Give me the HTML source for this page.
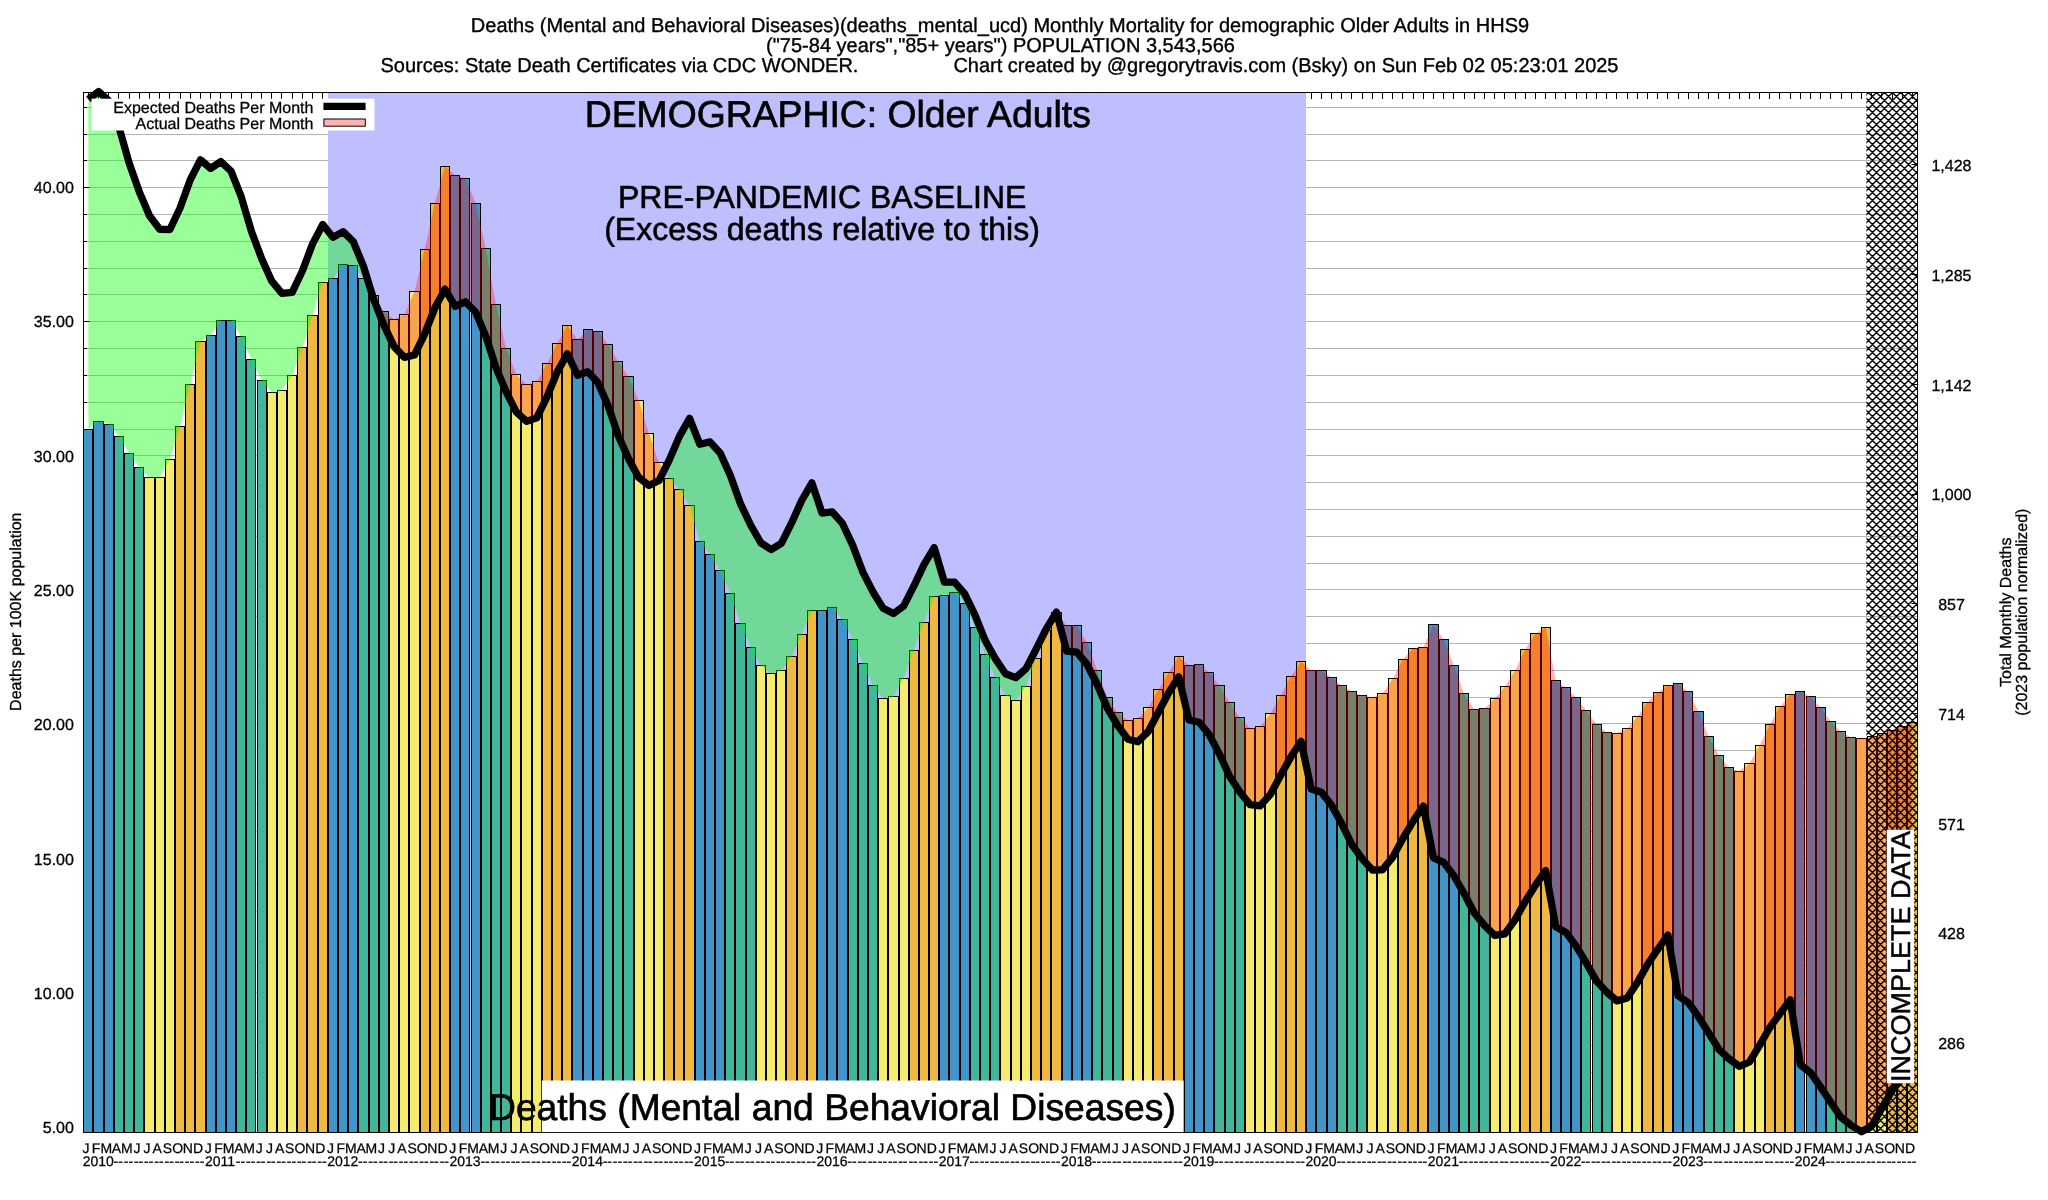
<!DOCTYPE html>
<html lang="en"><head><meta charset="utf-8"><title>Deaths (Mental and Behavioral Diseases) Monthly Mortality - Older Adults HHS9</title>
<style>html,body{margin:0;padding:0;background:#fff;width:2048px;height:1200px;overflow:hidden}svg{display:block;will-change:transform}</style></head>
<body>
<svg width="2048" height="1200" viewBox="0 0 2048 1200" font-family="'Liberation Sans', sans-serif" fill="#000" text-rendering="geometricPrecision">
<defs>
<pattern id="hatch" width="8" height="8" patternUnits="userSpaceOnUse"><path d="M-8,-8L16,16M-8,0L8,16M0,-8L16,8M-7,8L9,-8M-7,16L17,-8M1,16L17,0" stroke="#000" stroke-width="1.4" fill="none"/></pattern>
<clipPath id="plotclip"><rect x="83.5" y="84.5" width="1834.0" height="1052.0"/></clipPath>
</defs>
<rect width="2048" height="1200" fill="#fff"/>
<path d="M83.5,1126.5H1917.5M83.5,1099.5H1917.5M83.5,1072.5H1917.5M83.5,1045.5H1917.5M83.5,1018.5H1917.5M83.5,992.5H1917.5M83.5,965.5H1917.5M83.5,938.5H1917.5M83.5,911.5H1917.5M83.5,884.5H1917.5M83.5,858.5H1917.5M83.5,831.5H1917.5M83.5,804.5H1917.5M83.5,777.5H1917.5M83.5,750.5H1917.5M83.5,723.5H1917.5M83.5,697.5H1917.5M83.5,670.5H1917.5M83.5,643.5H1917.5M83.5,616.5H1917.5M83.5,589.5H1917.5M83.5,563.5H1917.5M83.5,536.5H1917.5M83.5,509.5H1917.5M83.5,482.5H1917.5M83.5,455.5H1917.5M83.5,429.5H1917.5M83.5,402.5H1917.5M83.5,375.5H1917.5M83.5,348.5H1917.5M83.5,321.5H1917.5M83.5,294.5H1917.5M83.5,268.5H1917.5M83.5,241.5H1917.5M83.5,214.5H1917.5M83.5,187.5H1917.5M83.5,160.5H1917.5M83.5,134.5H1917.5M83.5,107.5H1917.5" stroke="#b4b4b4" stroke-width="1" fill="none"/>
<path d="M88.5,92.5v6.5M98.5,92.5v6.5M108.5,92.5v6.5M118.5,92.5v6.5M129.5,92.5v6.5M139.5,92.5v6.5M149.5,92.5v6.5M159.5,92.5v6.5M169.5,92.5v6.5M180.5,92.5v6.5M190.5,92.5v6.5M200.5,92.5v6.5M210.5,92.5v6.5M220.5,92.5v6.5M231.5,92.5v6.5M241.5,92.5v6.5M251.5,92.5v6.5M261.5,92.5v6.5M271.5,92.5v6.5M281.5,92.5v6.5M292.5,92.5v6.5M302.5,92.5v6.5M312.5,92.5v6.5M322.5,92.5v6.5M332.5,92.5v6.5M343.5,92.5v6.5M353.5,92.5v6.5M363.5,92.5v6.5M373.5,92.5v6.5M383.5,92.5v6.5M394.5,92.5v6.5M404.5,92.5v6.5M414.5,92.5v6.5M424.5,92.5v6.5M434.5,92.5v6.5M445.5,92.5v6.5M455.5,92.5v6.5M465.5,92.5v6.5M475.5,92.5v6.5M485.5,92.5v6.5M495.5,92.5v6.5M506.5,92.5v6.5M516.5,92.5v6.5M526.5,92.5v6.5M536.5,92.5v6.5M546.5,92.5v6.5M557.5,92.5v6.5M567.5,92.5v6.5M577.5,92.5v6.5M587.5,92.5v6.5M597.5,92.5v6.5M608.5,92.5v6.5M618.5,92.5v6.5M628.5,92.5v6.5M638.5,92.5v6.5M648.5,92.5v6.5M659.5,92.5v6.5M669.5,92.5v6.5M679.5,92.5v6.5M689.5,92.5v6.5M699.5,92.5v6.5M709.5,92.5v6.5M720.5,92.5v6.5M730.5,92.5v6.5M740.5,92.5v6.5M750.5,92.5v6.5M760.5,92.5v6.5M771.5,92.5v6.5M781.5,92.5v6.5M791.5,92.5v6.5M801.5,92.5v6.5M811.5,92.5v6.5M822.5,92.5v6.5M832.5,92.5v6.5M842.5,92.5v6.5M852.5,92.5v6.5M862.5,92.5v6.5M873.5,92.5v6.5M883.5,92.5v6.5M893.5,92.5v6.5M903.5,92.5v6.5M913.5,92.5v6.5M923.5,92.5v6.5M934.5,92.5v6.5M944.5,92.5v6.5M954.5,92.5v6.5M964.5,92.5v6.5M974.5,92.5v6.5M985.5,92.5v6.5M995.5,92.5v6.5M1005.5,92.5v6.5M1015.5,92.5v6.5M1025.5,92.5v6.5M1036.5,92.5v6.5M1046.5,92.5v6.5M1056.5,92.5v6.5M1066.5,92.5v6.5M1076.5,92.5v6.5M1087.5,92.5v6.5M1097.5,92.5v6.5M1107.5,92.5v6.5M1117.5,92.5v6.5M1127.5,92.5v6.5M1137.5,92.5v6.5M1148.5,92.5v6.5M1158.5,92.5v6.5M1168.5,92.5v6.5M1178.5,92.5v6.5M1188.5,92.5v6.5M1199.5,92.5v6.5M1209.5,92.5v6.5M1219.5,92.5v6.5M1229.5,92.5v6.5M1239.5,92.5v6.5M1250.5,92.5v6.5M1260.5,92.5v6.5M1270.5,92.5v6.5M1280.5,92.5v6.5M1290.5,92.5v6.5M1301.5,92.5v6.5M1311.5,92.5v6.5M1321.5,92.5v6.5M1331.5,92.5v6.5M1341.5,92.5v6.5M1351.5,92.5v6.5M1362.5,92.5v6.5M1372.5,92.5v6.5M1382.5,92.5v6.5M1392.5,92.5v6.5M1402.5,92.5v6.5M1413.5,92.5v6.5M1423.5,92.5v6.5M1433.5,92.5v6.5M1443.5,92.5v6.5M1453.5,92.5v6.5M1464.5,92.5v6.5M1474.5,92.5v6.5M1484.5,92.5v6.5M1494.5,92.5v6.5M1504.5,92.5v6.5M1515.5,92.5v6.5M1525.5,92.5v6.5M1535.5,92.5v6.5M1545.5,92.5v6.5M1555.5,92.5v6.5M1565.5,92.5v6.5M1576.5,92.5v6.5M1586.5,92.5v6.5M1596.5,92.5v6.5M1606.5,92.5v6.5M1616.5,92.5v6.5M1627.5,92.5v6.5M1637.5,92.5v6.5M1647.5,92.5v6.5M1657.5,92.5v6.5M1667.5,92.5v6.5M1678.5,92.5v6.5M1688.5,92.5v6.5M1698.5,92.5v6.5M1708.5,92.5v6.5M1718.5,92.5v6.5M1729.5,92.5v6.5M1739.5,92.5v6.5M1749.5,92.5v6.5M1759.5,92.5v6.5M1769.5,92.5v6.5M1779.5,92.5v6.5M1790.5,92.5v6.5M1800.5,92.5v6.5M1810.5,92.5v6.5M1820.5,92.5v6.5M1830.5,92.5v6.5M1841.5,92.5v6.5M1851.5,92.5v6.5M1861.5,92.5v6.5M1871.5,92.5v6.5M1881.5,92.5v6.5M1892.5,92.5v6.5M1902.5,92.5v6.5M1912.5,92.5v6.5M83.5,1126.5h6.5M83.5,1099.5h3.5M83.5,1072.5h3.5M83.5,1045.5h3.5M83.5,1018.5h3.5M83.5,992.5h6.5M83.5,965.5h3.5M83.5,938.5h3.5M83.5,911.5h3.5M83.5,884.5h3.5M83.5,858.5h6.5M83.5,831.5h3.5M83.5,804.5h3.5M83.5,777.5h3.5M83.5,750.5h3.5M83.5,723.5h6.5M83.5,697.5h3.5M83.5,670.5h3.5M83.5,643.5h3.5M83.5,616.5h3.5M83.5,589.5h6.5M83.5,563.5h3.5M83.5,536.5h3.5M83.5,509.5h3.5M83.5,482.5h3.5M83.5,455.5h6.5M83.5,429.5h3.5M83.5,402.5h3.5M83.5,375.5h3.5M83.5,348.5h3.5M83.5,321.5h6.5M83.5,294.5h3.5M83.5,268.5h3.5M83.5,241.5h3.5M83.5,214.5h3.5M83.5,187.5h6.5M83.5,160.5h3.5M83.5,134.5h3.5M83.5,107.5h3.5M1917.5,164.5h-6M1917.5,274.5h-6M1917.5,384.5h-6M1917.5,494.5h-6M1917.5,603.5h-6M1917.5,713.5h-6M1917.5,823.5h-6M1917.5,933.5h-6M1917.5,1042.5h-6" stroke="#000" stroke-width="1" fill="none"/>
<rect x="328.0" y="93.0" width="978.0" height="1039.5" fill="#bfbfff"/>
<rect x="83.5" y="429.5" width="9.0" height="703.0" fill="#4195c9" stroke="#000" stroke-width="1"/>
<rect x="93.5" y="421.5" width="10.0" height="711.0" fill="#4195c9" stroke="#000" stroke-width="1"/>
<rect x="104.5" y="424.5" width="9.0" height="708.0" fill="#4195c9" stroke="#000" stroke-width="1"/>
<rect x="114.5" y="436.5" width="9.0" height="696.0" fill="#41b69a" stroke="#000" stroke-width="1"/>
<rect x="124.5" y="453.5" width="9.0" height="679.0" fill="#41b69a" stroke="#000" stroke-width="1"/>
<rect x="134.5" y="467.5" width="9.0" height="665.0" fill="#41b69a" stroke="#000" stroke-width="1"/>
<rect x="144.5" y="477.5" width="10.0" height="655.0" fill="#f5eb6e" stroke="#000" stroke-width="1"/>
<rect x="155.5" y="477.5" width="9.0" height="655.0" fill="#f5eb6e" stroke="#000" stroke-width="1"/>
<rect x="165.5" y="459.5" width="9.0" height="673.0" fill="#f5eb6e" stroke="#000" stroke-width="1"/>
<rect x="175.5" y="426.5" width="9.0" height="706.0" fill="#efb840" stroke="#000" stroke-width="1"/>
<rect x="185.5" y="384.5" width="9.0" height="748.0" fill="#efb840" stroke="#000" stroke-width="1"/>
<rect x="195.5" y="341.5" width="10.0" height="791.0" fill="#efb840" stroke="#000" stroke-width="1"/>
<rect x="206.5" y="335.5" width="9.0" height="797.0" fill="#4195c9" stroke="#000" stroke-width="1"/>
<rect x="216.5" y="320.5" width="9.0" height="812.0" fill="#4195c9" stroke="#000" stroke-width="1"/>
<rect x="226.5" y="320.5" width="9.0" height="812.0" fill="#4195c9" stroke="#000" stroke-width="1"/>
<rect x="236.5" y="336.5" width="9.0" height="796.0" fill="#41b69a" stroke="#000" stroke-width="1"/>
<rect x="246.5" y="359.5" width="9.0" height="773.0" fill="#41b69a" stroke="#000" stroke-width="1"/>
<rect x="257.5" y="380.5" width="9.0" height="752.0" fill="#41b69a" stroke="#000" stroke-width="1"/>
<rect x="267.5" y="392.5" width="9.0" height="740.0" fill="#f5eb6e" stroke="#000" stroke-width="1"/>
<rect x="277.5" y="390.5" width="9.0" height="742.0" fill="#f5eb6e" stroke="#000" stroke-width="1"/>
<rect x="287.5" y="375.5" width="9.0" height="757.0" fill="#f5eb6e" stroke="#000" stroke-width="1"/>
<rect x="297.5" y="347.5" width="9.0" height="785.0" fill="#efb840" stroke="#000" stroke-width="1"/>
<rect x="307.5" y="315.5" width="10.0" height="817.0" fill="#efb840" stroke="#000" stroke-width="1"/>
<rect x="318.5" y="282.5" width="9.0" height="850.0" fill="#efb840" stroke="#000" stroke-width="1"/>
<rect x="328.5" y="278.5" width="9.0" height="854.0" fill="#4195c9" stroke="#000" stroke-width="1"/>
<rect x="338.5" y="264.5" width="9.0" height="868.0" fill="#4195c9" stroke="#000" stroke-width="1"/>
<rect x="348.5" y="265.5" width="9.0" height="867.0" fill="#4195c9" stroke="#000" stroke-width="1"/>
<rect x="358.5" y="278.5" width="10.0" height="854.0" fill="#41b69a" stroke="#000" stroke-width="1"/>
<rect x="369.5" y="295.5" width="9.0" height="837.0" fill="#41b69a" stroke="#000" stroke-width="1"/>
<rect x="379.5" y="311.5" width="9.0" height="821.0" fill="#41b69a" stroke="#000" stroke-width="1"/>
<rect x="389.5" y="319.5" width="9.0" height="813.0" fill="#f5eb6e" stroke="#000" stroke-width="1"/>
<rect x="399.5" y="314.5" width="9.0" height="818.0" fill="#f5eb6e" stroke="#000" stroke-width="1"/>
<rect x="409.5" y="291.5" width="10.0" height="841.0" fill="#f5eb6e" stroke="#000" stroke-width="1"/>
<rect x="420.5" y="249.5" width="9.0" height="883.0" fill="#efb840" stroke="#000" stroke-width="1"/>
<rect x="430.5" y="203.5" width="9.0" height="929.0" fill="#efb840" stroke="#000" stroke-width="1"/>
<rect x="440.5" y="166.5" width="9.0" height="966.0" fill="#efb840" stroke="#000" stroke-width="1"/>
<rect x="450.5" y="175.5" width="9.0" height="957.0" fill="#4195c9" stroke="#000" stroke-width="1"/>
<rect x="460.5" y="178.5" width="9.0" height="954.0" fill="#4195c9" stroke="#000" stroke-width="1"/>
<rect x="471.5" y="203.5" width="9.0" height="929.0" fill="#4195c9" stroke="#000" stroke-width="1"/>
<rect x="481.5" y="248.5" width="9.0" height="884.0" fill="#41b69a" stroke="#000" stroke-width="1"/>
<rect x="491.5" y="304.5" width="9.0" height="828.0" fill="#41b69a" stroke="#000" stroke-width="1"/>
<rect x="501.5" y="348.5" width="9.0" height="784.0" fill="#41b69a" stroke="#000" stroke-width="1"/>
<rect x="511.5" y="374.5" width="9.0" height="758.0" fill="#f5eb6e" stroke="#000" stroke-width="1"/>
<rect x="521.5" y="384.5" width="10.0" height="748.0" fill="#f5eb6e" stroke="#000" stroke-width="1"/>
<rect x="532.5" y="381.5" width="9.0" height="751.0" fill="#f5eb6e" stroke="#000" stroke-width="1"/>
<rect x="542.5" y="363.5" width="9.0" height="769.0" fill="#efb840" stroke="#000" stroke-width="1"/>
<rect x="552.5" y="343.5" width="9.0" height="789.0" fill="#efb840" stroke="#000" stroke-width="1"/>
<rect x="562.5" y="325.5" width="9.0" height="807.0" fill="#efb840" stroke="#000" stroke-width="1"/>
<rect x="572.5" y="339.5" width="10.0" height="793.0" fill="#4195c9" stroke="#000" stroke-width="1"/>
<rect x="583.5" y="329.5" width="9.0" height="803.0" fill="#4195c9" stroke="#000" stroke-width="1"/>
<rect x="593.5" y="331.5" width="9.0" height="801.0" fill="#4195c9" stroke="#000" stroke-width="1"/>
<rect x="603.5" y="344.5" width="9.0" height="788.0" fill="#41b69a" stroke="#000" stroke-width="1"/>
<rect x="613.5" y="361.5" width="9.0" height="771.0" fill="#41b69a" stroke="#000" stroke-width="1"/>
<rect x="623.5" y="376.5" width="10.0" height="756.0" fill="#41b69a" stroke="#000" stroke-width="1"/>
<rect x="634.5" y="400.5" width="9.0" height="732.0" fill="#f5eb6e" stroke="#000" stroke-width="1"/>
<rect x="644.5" y="433.5" width="9.0" height="699.0" fill="#f5eb6e" stroke="#000" stroke-width="1"/>
<rect x="654.5" y="462.5" width="9.0" height="670.0" fill="#f5eb6e" stroke="#000" stroke-width="1"/>
<rect x="664.5" y="478.5" width="9.0" height="654.0" fill="#efb840" stroke="#000" stroke-width="1"/>
<rect x="674.5" y="489.5" width="9.0" height="643.0" fill="#efb840" stroke="#000" stroke-width="1"/>
<rect x="684.5" y="505.5" width="10.0" height="627.0" fill="#efb840" stroke="#000" stroke-width="1"/>
<rect x="695.5" y="541.5" width="9.0" height="591.0" fill="#4195c9" stroke="#000" stroke-width="1"/>
<rect x="705.5" y="554.5" width="9.0" height="578.0" fill="#4195c9" stroke="#000" stroke-width="1"/>
<rect x="715.5" y="570.5" width="9.0" height="562.0" fill="#4195c9" stroke="#000" stroke-width="1"/>
<rect x="725.5" y="593.5" width="9.0" height="539.0" fill="#41b69a" stroke="#000" stroke-width="1"/>
<rect x="735.5" y="623.5" width="10.0" height="509.0" fill="#41b69a" stroke="#000" stroke-width="1"/>
<rect x="746.5" y="647.5" width="9.0" height="485.0" fill="#41b69a" stroke="#000" stroke-width="1"/>
<rect x="756.5" y="665.5" width="9.0" height="467.0" fill="#f5eb6e" stroke="#000" stroke-width="1"/>
<rect x="766.5" y="673.5" width="9.0" height="459.0" fill="#f5eb6e" stroke="#000" stroke-width="1"/>
<rect x="776.5" y="670.5" width="9.0" height="462.0" fill="#f5eb6e" stroke="#000" stroke-width="1"/>
<rect x="786.5" y="656.5" width="10.0" height="476.0" fill="#efb840" stroke="#000" stroke-width="1"/>
<rect x="797.5" y="634.5" width="9.0" height="498.0" fill="#efb840" stroke="#000" stroke-width="1"/>
<rect x="807.5" y="610.5" width="9.0" height="522.0" fill="#efb840" stroke="#000" stroke-width="1"/>
<rect x="817.5" y="610.5" width="9.0" height="522.0" fill="#4195c9" stroke="#000" stroke-width="1"/>
<rect x="827.5" y="607.5" width="9.0" height="525.0" fill="#4195c9" stroke="#000" stroke-width="1"/>
<rect x="837.5" y="619.5" width="10.0" height="513.0" fill="#4195c9" stroke="#000" stroke-width="1"/>
<rect x="848.5" y="639.5" width="9.0" height="493.0" fill="#41b69a" stroke="#000" stroke-width="1"/>
<rect x="858.5" y="663.5" width="9.0" height="469.0" fill="#41b69a" stroke="#000" stroke-width="1"/>
<rect x="868.5" y="685.5" width="9.0" height="447.0" fill="#41b69a" stroke="#000" stroke-width="1"/>
<rect x="878.5" y="698.5" width="9.0" height="434.0" fill="#f5eb6e" stroke="#000" stroke-width="1"/>
<rect x="888.5" y="696.5" width="10.0" height="436.0" fill="#f5eb6e" stroke="#000" stroke-width="1"/>
<rect x="899.5" y="678.5" width="9.0" height="454.0" fill="#f5eb6e" stroke="#000" stroke-width="1"/>
<rect x="909.5" y="650.5" width="9.0" height="482.0" fill="#efb840" stroke="#000" stroke-width="1"/>
<rect x="919.5" y="622.5" width="9.0" height="510.0" fill="#efb840" stroke="#000" stroke-width="1"/>
<rect x="929.5" y="596.5" width="9.0" height="536.0" fill="#efb840" stroke="#000" stroke-width="1"/>
<rect x="939.5" y="595.5" width="9.0" height="537.0" fill="#4195c9" stroke="#000" stroke-width="1"/>
<rect x="949.5" y="592.5" width="10.0" height="540.0" fill="#4195c9" stroke="#000" stroke-width="1"/>
<rect x="960.5" y="603.5" width="9.0" height="529.0" fill="#4195c9" stroke="#000" stroke-width="1"/>
<rect x="970.5" y="627.5" width="9.0" height="505.0" fill="#41b69a" stroke="#000" stroke-width="1"/>
<rect x="980.5" y="654.5" width="9.0" height="478.0" fill="#41b69a" stroke="#000" stroke-width="1"/>
<rect x="990.5" y="677.5" width="9.0" height="455.0" fill="#41b69a" stroke="#000" stroke-width="1"/>
<rect x="1000.5" y="695.5" width="10.0" height="437.0" fill="#f5eb6e" stroke="#000" stroke-width="1"/>
<rect x="1011.5" y="700.5" width="9.0" height="432.0" fill="#f5eb6e" stroke="#000" stroke-width="1"/>
<rect x="1021.5" y="686.5" width="9.0" height="446.0" fill="#f5eb6e" stroke="#000" stroke-width="1"/>
<rect x="1031.5" y="658.5" width="9.0" height="474.0" fill="#efb840" stroke="#000" stroke-width="1"/>
<rect x="1041.5" y="630.5" width="9.0" height="502.0" fill="#efb840" stroke="#000" stroke-width="1"/>
<rect x="1051.5" y="612.5" width="10.0" height="520.0" fill="#efb840" stroke="#000" stroke-width="1"/>
<rect x="1062.5" y="625.5" width="9.0" height="507.0" fill="#4195c9" stroke="#000" stroke-width="1"/>
<rect x="1072.5" y="625.5" width="9.0" height="507.0" fill="#4195c9" stroke="#000" stroke-width="1"/>
<rect x="1082.5" y="642.5" width="9.0" height="490.0" fill="#4195c9" stroke="#000" stroke-width="1"/>
<rect x="1092.5" y="670.5" width="9.0" height="462.0" fill="#41b69a" stroke="#000" stroke-width="1"/>
<rect x="1102.5" y="697.5" width="10.0" height="435.0" fill="#41b69a" stroke="#000" stroke-width="1"/>
<rect x="1113.5" y="712.5" width="9.0" height="420.0" fill="#41b69a" stroke="#000" stroke-width="1"/>
<rect x="1123.5" y="720.5" width="9.0" height="412.0" fill="#f5eb6e" stroke="#000" stroke-width="1"/>
<rect x="1133.5" y="718.5" width="9.0" height="414.0" fill="#f5eb6e" stroke="#000" stroke-width="1"/>
<rect x="1143.5" y="707.5" width="9.0" height="425.0" fill="#f5eb6e" stroke="#000" stroke-width="1"/>
<rect x="1153.5" y="689.5" width="9.0" height="443.0" fill="#efb840" stroke="#000" stroke-width="1"/>
<rect x="1163.5" y="672.5" width="10.0" height="460.0" fill="#efb840" stroke="#000" stroke-width="1"/>
<rect x="1174.5" y="656.5" width="9.0" height="476.0" fill="#efb840" stroke="#000" stroke-width="1"/>
<rect x="1184.5" y="665.5" width="9.0" height="467.0" fill="#4195c9" stroke="#000" stroke-width="1"/>
<rect x="1194.5" y="664.5" width="9.0" height="468.0" fill="#4195c9" stroke="#000" stroke-width="1"/>
<rect x="1204.5" y="672.5" width="9.0" height="460.0" fill="#4195c9" stroke="#000" stroke-width="1"/>
<rect x="1214.5" y="685.5" width="10.0" height="447.0" fill="#41b69a" stroke="#000" stroke-width="1"/>
<rect x="1225.5" y="702.5" width="9.0" height="430.0" fill="#41b69a" stroke="#000" stroke-width="1"/>
<rect x="1235.5" y="717.5" width="9.0" height="415.0" fill="#41b69a" stroke="#000" stroke-width="1"/>
<rect x="1245.5" y="728.5" width="9.0" height="404.0" fill="#f5eb6e" stroke="#000" stroke-width="1"/>
<rect x="1255.5" y="726.5" width="9.0" height="406.0" fill="#f5eb6e" stroke="#000" stroke-width="1"/>
<rect x="1265.5" y="713.5" width="10.0" height="419.0" fill="#f5eb6e" stroke="#000" stroke-width="1"/>
<rect x="1276.5" y="695.5" width="9.0" height="437.0" fill="#efb840" stroke="#000" stroke-width="1"/>
<rect x="1286.5" y="676.5" width="9.0" height="456.0" fill="#efb840" stroke="#000" stroke-width="1"/>
<rect x="1296.5" y="661.5" width="9.0" height="471.0" fill="#efb840" stroke="#000" stroke-width="1"/>
<rect x="1306.5" y="670.5" width="9.0" height="462.0" fill="#4195c9" stroke="#000" stroke-width="1"/>
<rect x="1316.5" y="670.5" width="10.0" height="462.0" fill="#4195c9" stroke="#000" stroke-width="1"/>
<rect x="1327.5" y="677.5" width="9.0" height="455.0" fill="#4195c9" stroke="#000" stroke-width="1"/>
<rect x="1337.5" y="685.5" width="9.0" height="447.0" fill="#41b69a" stroke="#000" stroke-width="1"/>
<rect x="1347.5" y="691.5" width="9.0" height="441.0" fill="#41b69a" stroke="#000" stroke-width="1"/>
<rect x="1357.5" y="695.5" width="9.0" height="437.0" fill="#41b69a" stroke="#000" stroke-width="1"/>
<rect x="1367.5" y="697.5" width="9.0" height="435.0" fill="#f5eb6e" stroke="#000" stroke-width="1"/>
<rect x="1377.5" y="693.5" width="10.0" height="439.0" fill="#f5eb6e" stroke="#000" stroke-width="1"/>
<rect x="1388.5" y="678.5" width="9.0" height="454.0" fill="#f5eb6e" stroke="#000" stroke-width="1"/>
<rect x="1398.5" y="659.5" width="9.0" height="473.0" fill="#efb840" stroke="#000" stroke-width="1"/>
<rect x="1408.5" y="648.5" width="9.0" height="484.0" fill="#efb840" stroke="#000" stroke-width="1"/>
<rect x="1418.5" y="647.5" width="9.0" height="485.0" fill="#efb840" stroke="#000" stroke-width="1"/>
<rect x="1428.5" y="624.5" width="10.0" height="508.0" fill="#4195c9" stroke="#000" stroke-width="1"/>
<rect x="1439.5" y="639.5" width="9.0" height="493.0" fill="#4195c9" stroke="#000" stroke-width="1"/>
<rect x="1449.5" y="665.5" width="9.0" height="467.0" fill="#4195c9" stroke="#000" stroke-width="1"/>
<rect x="1459.5" y="693.5" width="9.0" height="439.0" fill="#41b69a" stroke="#000" stroke-width="1"/>
<rect x="1469.5" y="709.5" width="9.0" height="423.0" fill="#41b69a" stroke="#000" stroke-width="1"/>
<rect x="1479.5" y="708.5" width="10.0" height="424.0" fill="#41b69a" stroke="#000" stroke-width="1"/>
<rect x="1490.5" y="698.5" width="9.0" height="434.0" fill="#f5eb6e" stroke="#000" stroke-width="1"/>
<rect x="1500.5" y="686.5" width="9.0" height="446.0" fill="#f5eb6e" stroke="#000" stroke-width="1"/>
<rect x="1510.5" y="670.5" width="9.0" height="462.0" fill="#f5eb6e" stroke="#000" stroke-width="1"/>
<rect x="1520.5" y="649.5" width="9.0" height="483.0" fill="#efb840" stroke="#000" stroke-width="1"/>
<rect x="1530.5" y="633.5" width="10.0" height="499.0" fill="#efb840" stroke="#000" stroke-width="1"/>
<rect x="1541.5" y="627.5" width="9.0" height="505.0" fill="#efb840" stroke="#000" stroke-width="1"/>
<rect x="1551.5" y="680.5" width="9.0" height="452.0" fill="#4195c9" stroke="#000" stroke-width="1"/>
<rect x="1561.5" y="687.5" width="9.0" height="445.0" fill="#4195c9" stroke="#000" stroke-width="1"/>
<rect x="1571.5" y="697.5" width="9.0" height="435.0" fill="#4195c9" stroke="#000" stroke-width="1"/>
<rect x="1581.5" y="710.5" width="9.0" height="422.0" fill="#41b69a" stroke="#000" stroke-width="1"/>
<rect x="1592.5" y="724.5" width="9.0" height="408.0" fill="#41b69a" stroke="#000" stroke-width="1"/>
<rect x="1602.5" y="732.5" width="9.0" height="400.0" fill="#41b69a" stroke="#000" stroke-width="1"/>
<rect x="1612.5" y="733.5" width="9.0" height="399.0" fill="#f5eb6e" stroke="#000" stroke-width="1"/>
<rect x="1622.5" y="728.5" width="9.0" height="404.0" fill="#f5eb6e" stroke="#000" stroke-width="1"/>
<rect x="1632.5" y="716.5" width="9.0" height="416.0" fill="#f5eb6e" stroke="#000" stroke-width="1"/>
<rect x="1642.5" y="702.5" width="10.0" height="430.0" fill="#efb840" stroke="#000" stroke-width="1"/>
<rect x="1653.5" y="692.5" width="9.0" height="440.0" fill="#efb840" stroke="#000" stroke-width="1"/>
<rect x="1663.5" y="685.5" width="9.0" height="447.0" fill="#efb840" stroke="#000" stroke-width="1"/>
<rect x="1673.5" y="683.5" width="9.0" height="449.0" fill="#4195c9" stroke="#000" stroke-width="1"/>
<rect x="1683.5" y="691.5" width="9.0" height="441.0" fill="#4195c9" stroke="#000" stroke-width="1"/>
<rect x="1693.5" y="711.5" width="10.0" height="421.0" fill="#4195c9" stroke="#000" stroke-width="1"/>
<rect x="1704.5" y="736.5" width="9.0" height="396.0" fill="#41b69a" stroke="#000" stroke-width="1"/>
<rect x="1714.5" y="755.5" width="9.0" height="377.0" fill="#41b69a" stroke="#000" stroke-width="1"/>
<rect x="1724.5" y="767.5" width="9.0" height="365.0" fill="#41b69a" stroke="#000" stroke-width="1"/>
<rect x="1734.5" y="771.5" width="9.0" height="361.0" fill="#f5eb6e" stroke="#000" stroke-width="1"/>
<rect x="1744.5" y="763.5" width="10.0" height="369.0" fill="#f5eb6e" stroke="#000" stroke-width="1"/>
<rect x="1755.5" y="745.5" width="9.0" height="387.0" fill="#f5eb6e" stroke="#000" stroke-width="1"/>
<rect x="1765.5" y="724.5" width="9.0" height="408.0" fill="#efb840" stroke="#000" stroke-width="1"/>
<rect x="1775.5" y="706.5" width="9.0" height="426.0" fill="#efb840" stroke="#000" stroke-width="1"/>
<rect x="1785.5" y="694.5" width="9.0" height="438.0" fill="#efb840" stroke="#000" stroke-width="1"/>
<rect x="1795.5" y="691.5" width="9.0" height="441.0" fill="#4195c9" stroke="#000" stroke-width="1"/>
<rect x="1806.5" y="696.5" width="9.0" height="436.0" fill="#4195c9" stroke="#000" stroke-width="1"/>
<rect x="1816.5" y="707.5" width="9.0" height="425.0" fill="#4195c9" stroke="#000" stroke-width="1"/>
<rect x="1826.5" y="721.5" width="9.0" height="411.0" fill="#41b69a" stroke="#000" stroke-width="1"/>
<rect x="1836.5" y="731.5" width="9.0" height="401.0" fill="#41b69a" stroke="#000" stroke-width="1"/>
<rect x="1846.5" y="737.5" width="9.0" height="395.0" fill="#41b69a" stroke="#000" stroke-width="1"/>
<rect x="1856.5" y="738.5" width="10.0" height="394.0" fill="#f5eb6e" stroke="#000" stroke-width="1"/>
<rect x="1867.5" y="736.5" width="9.0" height="396.0" fill="#f5eb6e" stroke="#000" stroke-width="1"/>
<rect x="1877.5" y="733.5" width="9.0" height="399.0" fill="#f5eb6e" stroke="#000" stroke-width="1"/>
<rect x="1887.5" y="730.5" width="9.0" height="402.0" fill="#efb840" stroke="#000" stroke-width="1"/>
<rect x="1897.5" y="726.5" width="9.0" height="406.0" fill="#efb840" stroke="#000" stroke-width="1"/>
<rect x="1907.5" y="722.5" width="10.0" height="410.0" fill="#efb840" stroke="#000" stroke-width="1"/>
<g clip-path="url(#plotclip)">
<path d="M88.36,99.45L98.55,91.52L98.55,421.30L88.36,429.50ZM98.55,91.52L108.74,100.63L108.74,424.30L98.55,421.30ZM108.74,100.63L118.93,127.02L118.93,436.30L108.74,424.30ZM118.93,127.02L129.12,163.02L129.12,453.30L118.93,436.30ZM129.12,163.02L139.31,191.81L139.31,467.50L129.12,453.30ZM139.31,191.81L149.50,215.77L149.50,477.50L139.31,467.50ZM149.50,215.77L159.69,229.24L159.69,477.50L149.50,477.50ZM159.69,229.24L169.88,229.54L169.88,459.50L159.69,477.50ZM169.88,229.54L180.07,207.96L180.07,426.30L169.88,459.50ZM180.07,207.96L190.26,179.75L190.26,384.50L180.07,426.30ZM190.26,179.75L200.45,159.89L200.45,341.30L190.26,384.50ZM200.45,159.89L210.64,168.40L210.64,335.30L200.45,341.30ZM210.64,168.40L220.83,161.60L220.83,320.30L210.64,335.30ZM220.83,161.60L231.02,171.10L231.02,320.30L220.83,320.30ZM231.02,171.10L241.21,196.70L241.21,336.70L231.02,320.30ZM241.21,196.70L251.40,231.20L251.40,359.50L241.21,336.70ZM251.40,231.20L261.59,258.50L261.59,380.50L251.40,359.50ZM261.59,258.50L271.78,281.20L271.78,392.50L261.59,380.50ZM271.78,281.20L281.97,293.30L281.97,390.50L271.78,392.50ZM281.97,293.30L292.17,292.30L292.17,375.50L281.97,390.50ZM292.17,292.30L302.36,271.00L302.36,347.50L292.17,375.50ZM302.36,271.00L312.55,243.90L312.55,315.50L302.36,347.50ZM312.55,243.90L322.74,224.50L322.74,282.50L312.55,315.50ZM322.74,224.50L332.93,237.35L332.93,278.30L322.74,282.50ZM332.93,237.35L343.12,231.68L343.12,264.70L332.93,278.30ZM343.12,231.68L353.31,241.57L353.31,265.30L343.12,264.70ZM353.31,241.57L363.50,266.38L363.50,278.30L353.31,265.30ZM363.50,266.38L371.34,291.76L363.50,278.30ZM669.21,460.12L664.08,470.44L669.21,478.30ZM669.21,460.12L679.40,436.35L679.40,489.40L669.21,478.30ZM679.40,436.35L689.59,418.32L689.59,505.50L679.40,489.40ZM689.59,418.32L699.79,444.20L699.79,541.70L689.59,505.50ZM699.79,444.20L709.98,441.90L709.98,554.30L699.79,541.70ZM709.98,441.90L720.17,452.97L720.17,570.50L709.98,554.30ZM720.17,452.97L730.36,475.43L730.36,593.70L720.17,570.50ZM730.36,475.43L740.55,503.90L740.55,623.80L730.36,593.70ZM740.55,503.90L750.74,525.27L750.74,647.80L740.55,623.80ZM750.74,525.27L760.93,542.90L760.93,665.80L750.74,647.80ZM760.93,542.90L771.12,549.53L771.12,673.70L760.93,665.80ZM771.12,549.53L781.31,543.33L781.31,670.80L771.12,673.70ZM781.31,543.33L791.50,523.17L791.50,656.70L781.31,670.80ZM791.50,523.17L801.69,500.50L801.69,634.70L791.50,656.70ZM801.69,500.50L811.88,482.93L811.88,610.70L801.69,634.70ZM811.88,482.93L822.07,513.15L822.07,610.60L811.88,610.70ZM822.07,513.15L832.26,511.98L832.26,607.70L822.07,610.60ZM832.26,511.98L842.45,523.43L842.45,619.50L832.26,607.70ZM842.45,523.43L852.64,545.12L852.64,639.70L842.45,619.50ZM852.64,545.12L862.83,572.08L862.83,663.70L852.64,639.70ZM862.83,572.08L873.02,591.96L873.02,685.70L862.83,663.70ZM873.02,591.96L883.21,608.33L883.21,698.30L873.02,685.70ZM883.21,608.33L893.40,613.59L893.40,696.70L883.21,698.30ZM893.40,613.59L903.60,606.09L903.60,678.30L893.40,696.70ZM903.60,606.09L913.79,586.21L913.79,650.50L903.60,678.30ZM913.79,586.21L923.98,564.65L923.98,622.70L913.79,650.50ZM923.98,564.65L934.17,547.54L934.17,596.50L923.98,622.70ZM934.17,547.54L944.36,582.10L944.36,595.40L934.17,596.50ZM944.36,582.10L954.55,582.05L954.55,592.60L944.36,595.40ZM954.55,582.05L964.74,593.90L964.74,603.30L954.55,592.60ZM964.74,593.90L974.93,614.80L974.93,627.80L964.74,603.30ZM974.93,614.80L985.12,640.25L985.12,654.70L974.93,627.80ZM985.12,640.25L995.31,658.65L995.31,677.70L985.12,654.70ZM995.31,658.65L1005.50,673.75L1005.50,695.50L995.31,677.70ZM1005.50,673.75L1015.69,677.65L1015.69,700.30L1005.50,695.50ZM1015.69,677.65L1025.88,668.85L1025.88,686.70L1015.69,700.30ZM1025.88,668.85L1036.07,649.25L1036.07,658.50L1025.88,686.70ZM1036.07,649.25L1046.26,628.80L1046.26,630.80L1036.07,658.50ZM1046.26,628.80L1056.45,612.15L1056.45,612.50L1046.26,630.80ZM1056.45,612.15L1056.59,612.68L1056.45,612.50Z" fill="#00ff00" fill-opacity="0.4"/>
<path d="M373.69,299.38L371.34,291.76L373.69,295.80ZM373.69,299.38L383.88,325.19L383.88,311.30L373.69,295.80ZM383.88,325.19L394.07,346.62L394.07,319.20L383.88,311.30ZM394.07,346.62L404.26,357.36L404.26,314.50L394.07,319.20ZM404.26,357.36L414.45,355.06L414.45,291.70L404.26,314.50ZM414.45,355.06L424.64,334.04L424.64,249.50L414.45,291.70ZM424.64,334.04L434.83,308.05L434.83,203.30L424.64,249.50ZM434.83,308.05L445.02,289.11L445.02,166.20L434.83,203.30ZM445.02,289.11L455.21,306.30L455.21,175.30L445.02,166.20ZM455.21,306.30L465.40,301.75L465.40,178.30L455.21,175.30ZM465.40,301.75L475.59,312.03L475.59,203.30L465.40,178.30ZM475.59,312.03L485.78,336.07L485.78,248.70L475.59,203.30ZM485.78,336.07L495.98,367.55L495.98,304.70L485.78,248.70ZM495.98,367.55L506.17,391.88L506.17,348.50L495.98,304.70ZM506.17,391.88L516.36,412.05L516.36,374.70L506.17,348.50ZM516.36,412.05L526.55,421.42L526.55,384.70L516.36,374.70ZM526.55,421.42L536.74,417.82L536.74,381.70L526.55,384.70ZM536.74,417.82L546.93,397.08L546.93,363.70L536.74,381.70ZM546.93,397.08L557.12,372.20L557.12,343.50L546.93,363.70ZM557.12,372.20L567.31,353.72L567.31,325.40L557.12,343.50ZM567.31,353.72L577.50,375.25L577.50,339.50L567.31,325.40ZM577.50,375.25L587.69,371.83L587.69,329.60L577.50,339.50ZM587.69,371.83L597.88,382.50L597.88,331.30L587.69,329.60ZM597.88,382.50L608.07,405.75L608.07,344.50L597.88,331.30ZM608.07,405.75L618.26,435.72L618.26,361.70L608.07,344.50ZM618.26,435.72L628.45,458.57L628.45,376.70L618.26,361.70ZM628.45,458.57L638.64,477.47L638.64,400.50L628.45,376.70ZM638.64,477.47L648.83,485.48L648.83,433.30L638.64,400.50ZM648.83,485.48L659.02,480.58L659.02,462.70L648.83,433.30ZM659.02,480.58L664.08,470.44L659.02,462.70ZM1066.64,651.05L1056.59,612.68L1066.64,625.50ZM1066.64,651.05L1076.83,652.12L1076.83,625.50L1066.64,625.50ZM1076.83,652.12L1087.02,664.37L1087.02,642.50L1076.83,625.50ZM1087.02,664.37L1097.21,684.48L1097.21,670.50L1087.02,642.50ZM1097.21,684.48L1107.41,708.42L1107.41,697.50L1097.21,670.50ZM1107.41,708.42L1117.60,725.34L1117.60,712.80L1107.41,697.50ZM1117.60,725.34L1127.79,739.17L1127.79,720.30L1117.60,712.80ZM1127.79,739.17L1137.98,741.71L1137.98,718.50L1127.79,720.30ZM1137.98,741.71L1148.17,731.61L1148.17,707.70L1137.98,718.50ZM1148.17,731.61L1158.36,712.29L1158.36,689.70L1148.17,707.70ZM1158.36,712.29L1168.55,692.95L1168.55,672.50L1158.36,689.70ZM1168.55,692.95L1178.74,676.76L1178.74,656.70L1168.55,672.50ZM1178.74,676.76L1188.93,720.00L1188.93,665.30L1178.74,656.70ZM1188.93,720.00L1199.12,722.20L1199.12,664.30L1188.93,665.30ZM1199.12,722.20L1209.31,734.83L1209.31,672.50L1199.12,664.30ZM1209.31,734.83L1219.50,754.17L1219.50,685.50L1209.31,672.50ZM1219.50,754.17L1229.69,776.60L1229.69,702.70L1219.50,685.50ZM1229.69,776.60L1239.88,792.03L1239.88,717.70L1229.69,702.70ZM1239.88,792.03L1250.07,804.60L1250.07,728.30L1239.88,717.70ZM1250.07,804.60L1260.26,805.77L1260.26,726.70L1250.07,728.30ZM1260.26,805.77L1270.45,794.37L1270.45,713.70L1260.26,726.70ZM1270.45,794.37L1280.64,775.33L1280.64,695.50L1270.45,713.70ZM1280.64,775.33L1290.83,757.10L1290.83,676.70L1280.64,695.50ZM1290.83,757.10L1301.02,741.37L1301.02,661.70L1290.83,676.70ZM1301.02,741.37L1311.22,788.95L1311.22,670.30L1301.02,661.70ZM1311.22,788.95L1321.41,792.28L1321.41,670.30L1311.22,670.30ZM1321.41,792.28L1331.60,805.30L1331.60,677.50L1321.41,670.30ZM1331.60,805.30L1341.79,823.85L1341.79,685.50L1331.60,677.50ZM1341.79,823.85L1351.98,844.77L1351.98,691.50L1341.79,685.50ZM1351.98,844.77L1362.17,858.72L1362.17,695.50L1351.98,691.50ZM1362.17,858.72L1372.36,870.02L1372.36,697.60L1362.17,695.50ZM1372.36,870.02L1382.55,869.83L1382.55,693.70L1372.36,697.60ZM1382.55,869.83L1392.74,857.13L1392.74,678.70L1382.55,693.70ZM1392.74,857.13L1402.93,838.38L1402.93,659.50L1392.74,678.70ZM1402.93,838.38L1413.12,821.25L1413.12,648.70L1402.93,659.50ZM1413.12,821.25L1423.31,805.98L1423.31,647.80L1413.12,648.70ZM1423.31,805.98L1433.50,857.90L1433.50,624.50L1423.31,647.80ZM1433.50,857.90L1443.69,862.35L1443.69,639.70L1433.50,624.50ZM1443.69,862.35L1453.88,875.77L1453.88,665.30L1443.69,639.70ZM1453.88,875.77L1464.07,893.53L1464.07,693.70L1453.88,665.30ZM1464.07,893.53L1474.26,912.95L1474.26,709.50L1464.07,693.70ZM1474.26,912.95L1484.45,925.42L1484.45,708.70L1474.26,709.50ZM1484.45,925.42L1494.64,935.45L1494.64,698.70L1484.45,708.70ZM1494.64,935.45L1504.83,933.88L1504.83,686.70L1494.64,698.70ZM1504.83,933.88L1515.03,919.88L1515.03,670.70L1504.83,686.70ZM1515.03,919.88L1525.22,901.42L1525.22,649.50L1515.03,670.70ZM1525.22,901.42L1535.41,885.40L1535.41,633.70L1525.22,649.50ZM1535.41,885.40L1545.60,870.58L1545.60,627.50L1535.41,633.70ZM1545.60,870.58L1555.79,926.85L1555.79,680.70L1545.60,627.50ZM1555.79,926.85L1565.98,932.43L1565.98,687.50L1555.79,680.70ZM1565.98,932.43L1576.17,946.23L1576.17,697.70L1565.98,687.50ZM1576.17,946.23L1586.36,963.22L1586.36,710.70L1576.17,697.70ZM1586.36,963.22L1596.55,981.12L1596.55,724.70L1586.36,710.70ZM1596.55,981.12L1606.74,992.11L1606.74,732.50L1596.55,724.70ZM1606.74,992.11L1616.93,1000.88L1616.93,733.30L1606.74,732.50ZM1616.93,1000.88L1627.12,997.94L1627.12,728.70L1616.93,733.30ZM1627.12,997.94L1637.31,982.64L1637.31,716.70L1627.12,728.70ZM1637.31,982.64L1647.50,964.46L1647.50,702.60L1637.31,716.70ZM1647.50,964.46L1657.69,949.55L1657.69,692.60L1647.50,702.60ZM1657.69,949.55L1667.88,935.19L1667.88,685.60L1657.69,692.60ZM1667.88,935.19L1678.07,995.80L1678.07,683.70L1667.88,685.60ZM1678.07,995.80L1688.26,1002.50L1688.26,691.70L1678.07,683.70ZM1688.26,1002.50L1698.45,1016.70L1698.45,711.70L1688.26,691.70ZM1698.45,1016.70L1708.64,1032.90L1708.64,736.70L1698.45,711.70ZM1708.64,1032.90L1718.84,1049.30L1718.84,755.50L1708.64,736.70ZM1718.84,1049.30L1729.03,1058.80L1729.03,767.70L1718.84,755.50ZM1729.03,1058.80L1739.22,1066.30L1739.22,771.30L1729.03,767.70ZM1739.22,1066.30L1749.41,1062.00L1749.41,763.70L1739.22,771.30ZM1749.41,1062.00L1759.60,1045.40L1759.60,745.70L1749.41,763.70ZM1759.60,1045.40L1769.79,1027.50L1769.79,724.70L1759.60,745.70ZM1769.79,1027.50L1779.98,1013.70L1779.98,706.70L1769.79,724.70ZM1779.98,1013.70L1790.17,999.80L1790.17,694.70L1779.98,706.70ZM1790.17,999.80L1800.36,1064.75L1800.36,691.70L1790.17,694.70ZM1800.36,1064.75L1810.55,1072.58L1810.55,696.70L1800.36,691.70ZM1810.55,1072.58L1820.74,1087.17L1820.74,707.70L1810.55,696.70ZM1820.74,1087.17L1830.93,1102.58L1830.93,721.70L1820.74,707.70ZM1830.93,1102.58L1841.12,1117.47L1841.12,731.70L1830.93,721.70ZM1841.12,1117.47L1851.31,1125.49L1851.31,737.50L1841.12,731.70ZM1851.31,1125.49L1861.50,1131.72L1861.50,738.70L1851.31,737.50ZM1861.50,1131.72L1871.69,1126.06L1871.69,736.70L1861.50,738.70ZM1871.69,1126.06L1881.88,1108.16L1881.88,733.70L1871.69,736.70ZM1881.88,1108.16L1892.07,1090.54L1892.07,730.00L1881.88,733.70ZM1892.07,1090.54L1902.26,1077.85L1902.26,726.70L1892.07,730.00ZM1902.26,1077.85L1912.45,1064.41L1912.45,722.70L1902.26,726.70Z" fill="#ff0000" fill-opacity="0.3"/>
<polyline points="88.36,99.45 98.55,91.52 108.74,100.63 118.93,127.02 129.12,163.02 139.31,191.81 149.50,215.77 159.69,229.24 169.88,229.54 180.07,207.96 190.26,179.75 200.45,159.89 210.64,168.40 220.83,161.60 231.02,171.10 241.21,196.70 251.40,231.20 261.59,258.50 271.78,281.20 281.97,293.30 292.17,292.30 302.36,271.00 312.55,243.90 322.74,224.50 332.93,237.35 343.12,231.68 353.31,241.57 363.50,266.38 373.69,299.38 383.88,325.19 394.07,346.62 404.26,357.36 414.45,355.06 424.64,334.04 434.83,308.05 445.02,289.11 455.21,306.30 465.40,301.75 475.59,312.03 485.78,336.07 495.98,367.55 506.17,391.88 516.36,412.05 526.55,421.42 536.74,417.82 546.93,397.08 557.12,372.20 567.31,353.72 577.50,375.25 587.69,371.83 597.88,382.50 608.07,405.75 618.26,435.72 628.45,458.57 638.64,477.47 648.83,485.48 659.02,480.58 669.21,460.12 679.40,436.35 689.59,418.32 699.79,444.20 709.98,441.90 720.17,452.97 730.36,475.43 740.55,503.90 750.74,525.27 760.93,542.90 771.12,549.53 781.31,543.33 791.50,523.17 801.69,500.50 811.88,482.93 822.07,513.15 832.26,511.98 842.45,523.43 852.64,545.12 862.83,572.08 873.02,591.96 883.21,608.33 893.40,613.59 903.60,606.09 913.79,586.21 923.98,564.65 934.17,547.54 944.36,582.10 954.55,582.05 964.74,593.90 974.93,614.80 985.12,640.25 995.31,658.65 1005.50,673.75 1015.69,677.65 1025.88,668.85 1036.07,649.25 1046.26,628.80 1056.45,612.15 1066.64,651.05 1076.83,652.12 1087.02,664.37 1097.21,684.48 1107.41,708.42 1117.60,725.34 1127.79,739.17 1137.98,741.71 1148.17,731.61 1158.36,712.29 1168.55,692.95 1178.74,676.76 1188.93,720.00 1199.12,722.20 1209.31,734.83 1219.50,754.17 1229.69,776.60 1239.88,792.03 1250.07,804.60 1260.26,805.77 1270.45,794.37 1280.64,775.33 1290.83,757.10 1301.02,741.37 1311.22,788.95 1321.41,792.28 1331.60,805.30 1341.79,823.85 1351.98,844.77 1362.17,858.72 1372.36,870.02 1382.55,869.83 1392.74,857.13 1402.93,838.38 1413.12,821.25 1423.31,805.98 1433.50,857.90 1443.69,862.35 1453.88,875.77 1464.07,893.53 1474.26,912.95 1484.45,925.42 1494.64,935.45 1504.83,933.88 1515.03,919.88 1525.22,901.42 1535.41,885.40 1545.60,870.58 1555.79,926.85 1565.98,932.43 1576.17,946.23 1586.36,963.22 1596.55,981.12 1606.74,992.11 1616.93,1000.88 1627.12,997.94 1637.31,982.64 1647.50,964.46 1657.69,949.55 1667.88,935.19 1678.07,995.80 1688.26,1002.50 1698.45,1016.70 1708.64,1032.90 1718.84,1049.30 1729.03,1058.80 1739.22,1066.30 1749.41,1062.00 1759.60,1045.40 1769.79,1027.50 1779.98,1013.70 1790.17,999.80 1800.36,1064.75 1810.55,1072.58 1820.74,1087.17 1830.93,1102.58 1841.12,1117.47 1851.31,1125.49 1861.50,1131.72 1871.69,1126.06 1881.88,1108.16 1892.07,1090.54 1902.26,1077.85 1912.45,1064.41" fill="none" stroke="#000" stroke-width="7.3" stroke-linejoin="round" stroke-linecap="butt"/>
</g>
<rect x="1866.4" y="92.5" width="51.1" height="1040.0" fill="url(#hatch)"/>
<rect x="83.5" y="92.5" width="1834.0" height="1040.0" fill="none" stroke="#000" stroke-width="1"/>
<g font-size="16" stroke="#000" stroke-width="0.29">
<text x="73.9" y="1133.19" text-anchor="end">5.00</text>
<text x="73.9" y="998.91" text-anchor="end">10.00</text>
<text x="73.9" y="864.62" text-anchor="end">15.00</text>
<text x="73.9" y="730.34" text-anchor="end">20.00</text>
<text x="73.9" y="596.06" text-anchor="end">25.00</text>
<text x="73.9" y="461.77" text-anchor="end">30.00</text>
<text x="73.9" y="327.49" text-anchor="end">35.00</text>
<text x="73.9" y="193.20" text-anchor="end">40.00</text>
<text x="1951.5" y="171.05" text-anchor="middle">1,428</text>
<text x="1951.5" y="280.80" text-anchor="middle">1,285</text>
<text x="1951.5" y="390.55" text-anchor="middle">1,142</text>
<text x="1951.5" y="500.30" text-anchor="middle">1,000</text>
<text x="1951.5" y="610.05" text-anchor="middle">857</text>
<text x="1951.5" y="719.80" text-anchor="middle">714</text>
<text x="1951.5" y="829.55" text-anchor="middle">571</text>
<text x="1951.5" y="939.30" text-anchor="middle">428</text>
<text x="1951.5" y="1049.05" text-anchor="middle">286</text>
</g>
<g font-size="14" stroke="#000" stroke-width="0.25">
<text x="85.96" y="1153.0" text-anchor="middle">J</text>
<text x="82.66" y="1165.8">2010</text>
<text x="96.15" y="1153.0" text-anchor="middle">F</text>
<text x="106.34" y="1153.0" text-anchor="middle">M</text>
<text x="116.53" y="1153.0" text-anchor="middle">A</text>
<text x="113.53" y="1165.8">--</text>
<text x="126.72" y="1153.0" text-anchor="middle">M</text>
<text x="123.72" y="1165.8">--</text>
<text x="136.91" y="1153.0" text-anchor="middle">J</text>
<text x="133.91" y="1165.8">--</text>
<text x="147.10" y="1153.0" text-anchor="middle">J</text>
<text x="144.10" y="1165.8">--</text>
<text x="157.29" y="1153.0" text-anchor="middle">A</text>
<text x="154.29" y="1165.8">--</text>
<text x="167.48" y="1153.0" text-anchor="middle">S</text>
<text x="164.48" y="1165.8">--</text>
<text x="177.67" y="1153.0" text-anchor="middle">O</text>
<text x="174.67" y="1165.8">--</text>
<text x="187.86" y="1153.0" text-anchor="middle">N</text>
<text x="184.87" y="1165.8">--</text>
<text x="198.05" y="1153.0" text-anchor="middle">D</text>
<text x="195.06" y="1165.8">--</text>
<text x="208.24" y="1153.0" text-anchor="middle">J</text>
<text x="204.95" y="1165.8">2011</text>
<text x="218.43" y="1153.0" text-anchor="middle">F</text>
<text x="228.62" y="1153.0" text-anchor="middle">M</text>
<text x="238.81" y="1153.0" text-anchor="middle">A</text>
<text x="235.82" y="1165.8">--</text>
<text x="249.00" y="1153.0" text-anchor="middle">M</text>
<text x="246.01" y="1165.8">--</text>
<text x="259.19" y="1153.0" text-anchor="middle">J</text>
<text x="256.20" y="1165.8">--</text>
<text x="269.38" y="1153.0" text-anchor="middle">J</text>
<text x="266.39" y="1165.8">--</text>
<text x="279.57" y="1153.0" text-anchor="middle">A</text>
<text x="276.58" y="1165.8">--</text>
<text x="289.77" y="1153.0" text-anchor="middle">S</text>
<text x="286.77" y="1165.8">--</text>
<text x="299.96" y="1153.0" text-anchor="middle">O</text>
<text x="296.96" y="1165.8">--</text>
<text x="310.15" y="1153.0" text-anchor="middle">N</text>
<text x="307.15" y="1165.8">--</text>
<text x="320.34" y="1153.0" text-anchor="middle">D</text>
<text x="317.34" y="1165.8">--</text>
<text x="330.53" y="1153.0" text-anchor="middle">J</text>
<text x="327.23" y="1165.8">2012</text>
<text x="340.72" y="1153.0" text-anchor="middle">F</text>
<text x="350.91" y="1153.0" text-anchor="middle">M</text>
<text x="361.10" y="1153.0" text-anchor="middle">A</text>
<text x="358.10" y="1165.8">--</text>
<text x="371.29" y="1153.0" text-anchor="middle">M</text>
<text x="368.29" y="1165.8">--</text>
<text x="381.48" y="1153.0" text-anchor="middle">J</text>
<text x="378.48" y="1165.8">--</text>
<text x="391.67" y="1153.0" text-anchor="middle">J</text>
<text x="388.68" y="1165.8">--</text>
<text x="401.86" y="1153.0" text-anchor="middle">A</text>
<text x="398.87" y="1165.8">--</text>
<text x="412.05" y="1153.0" text-anchor="middle">S</text>
<text x="409.06" y="1165.8">--</text>
<text x="422.24" y="1153.0" text-anchor="middle">O</text>
<text x="419.25" y="1165.8">--</text>
<text x="432.43" y="1153.0" text-anchor="middle">N</text>
<text x="429.44" y="1165.8">--</text>
<text x="442.62" y="1153.0" text-anchor="middle">D</text>
<text x="439.63" y="1165.8">--</text>
<text x="452.81" y="1153.0" text-anchor="middle">J</text>
<text x="449.52" y="1165.8">2013</text>
<text x="463.00" y="1153.0" text-anchor="middle">F</text>
<text x="473.19" y="1153.0" text-anchor="middle">M</text>
<text x="483.38" y="1153.0" text-anchor="middle">A</text>
<text x="480.39" y="1165.8">--</text>
<text x="493.58" y="1153.0" text-anchor="middle">M</text>
<text x="490.58" y="1165.8">--</text>
<text x="503.77" y="1153.0" text-anchor="middle">J</text>
<text x="500.77" y="1165.8">--</text>
<text x="513.96" y="1153.0" text-anchor="middle">J</text>
<text x="510.96" y="1165.8">--</text>
<text x="524.15" y="1153.0" text-anchor="middle">A</text>
<text x="521.15" y="1165.8">--</text>
<text x="534.34" y="1153.0" text-anchor="middle">S</text>
<text x="531.34" y="1165.8">--</text>
<text x="544.53" y="1153.0" text-anchor="middle">O</text>
<text x="541.53" y="1165.8">--</text>
<text x="554.72" y="1153.0" text-anchor="middle">N</text>
<text x="551.72" y="1165.8">--</text>
<text x="564.91" y="1153.0" text-anchor="middle">D</text>
<text x="561.91" y="1165.8">--</text>
<text x="575.10" y="1153.0" text-anchor="middle">J</text>
<text x="571.80" y="1165.8">2014</text>
<text x="585.29" y="1153.0" text-anchor="middle">F</text>
<text x="595.48" y="1153.0" text-anchor="middle">M</text>
<text x="605.67" y="1153.0" text-anchor="middle">A</text>
<text x="602.68" y="1165.8">--</text>
<text x="615.86" y="1153.0" text-anchor="middle">M</text>
<text x="612.87" y="1165.8">--</text>
<text x="626.05" y="1153.0" text-anchor="middle">J</text>
<text x="623.06" y="1165.8">--</text>
<text x="636.24" y="1153.0" text-anchor="middle">J</text>
<text x="633.25" y="1165.8">--</text>
<text x="646.43" y="1153.0" text-anchor="middle">A</text>
<text x="643.44" y="1165.8">--</text>
<text x="656.62" y="1153.0" text-anchor="middle">S</text>
<text x="653.63" y="1165.8">--</text>
<text x="666.81" y="1153.0" text-anchor="middle">O</text>
<text x="663.82" y="1165.8">--</text>
<text x="677.00" y="1153.0" text-anchor="middle">N</text>
<text x="674.01" y="1165.8">--</text>
<text x="687.19" y="1153.0" text-anchor="middle">D</text>
<text x="684.20" y="1165.8">--</text>
<text x="697.39" y="1153.0" text-anchor="middle">J</text>
<text x="694.09" y="1165.8">2015</text>
<text x="707.58" y="1153.0" text-anchor="middle">F</text>
<text x="717.77" y="1153.0" text-anchor="middle">M</text>
<text x="727.96" y="1153.0" text-anchor="middle">A</text>
<text x="724.96" y="1165.8">--</text>
<text x="738.15" y="1153.0" text-anchor="middle">M</text>
<text x="735.15" y="1165.8">--</text>
<text x="748.34" y="1153.0" text-anchor="middle">J</text>
<text x="745.34" y="1165.8">--</text>
<text x="758.53" y="1153.0" text-anchor="middle">J</text>
<text x="755.53" y="1165.8">--</text>
<text x="768.72" y="1153.0" text-anchor="middle">A</text>
<text x="765.72" y="1165.8">--</text>
<text x="778.91" y="1153.0" text-anchor="middle">S</text>
<text x="775.91" y="1165.8">--</text>
<text x="789.10" y="1153.0" text-anchor="middle">O</text>
<text x="786.10" y="1165.8">--</text>
<text x="799.29" y="1153.0" text-anchor="middle">N</text>
<text x="796.30" y="1165.8">--</text>
<text x="809.48" y="1153.0" text-anchor="middle">D</text>
<text x="806.49" y="1165.8">--</text>
<text x="819.67" y="1153.0" text-anchor="middle">J</text>
<text x="816.38" y="1165.8">2016</text>
<text x="829.86" y="1153.0" text-anchor="middle">F</text>
<text x="840.05" y="1153.0" text-anchor="middle">M</text>
<text x="850.24" y="1153.0" text-anchor="middle">A</text>
<text x="847.25" y="1165.8">--</text>
<text x="860.43" y="1153.0" text-anchor="middle">M</text>
<text x="857.44" y="1165.8">--</text>
<text x="870.62" y="1153.0" text-anchor="middle">J</text>
<text x="867.63" y="1165.8">--</text>
<text x="880.81" y="1153.0" text-anchor="middle">J</text>
<text x="877.82" y="1165.8">--</text>
<text x="891.00" y="1153.0" text-anchor="middle">A</text>
<text x="888.01" y="1165.8">--</text>
<text x="901.20" y="1153.0" text-anchor="middle">S</text>
<text x="898.20" y="1165.8">--</text>
<text x="911.39" y="1153.0" text-anchor="middle">O</text>
<text x="908.39" y="1165.8">--</text>
<text x="921.58" y="1153.0" text-anchor="middle">N</text>
<text x="918.58" y="1165.8">--</text>
<text x="931.77" y="1153.0" text-anchor="middle">D</text>
<text x="928.77" y="1165.8">--</text>
<text x="941.96" y="1153.0" text-anchor="middle">J</text>
<text x="938.66" y="1165.8">2017</text>
<text x="952.15" y="1153.0" text-anchor="middle">F</text>
<text x="962.34" y="1153.0" text-anchor="middle">M</text>
<text x="972.53" y="1153.0" text-anchor="middle">A</text>
<text x="969.53" y="1165.8">--</text>
<text x="982.72" y="1153.0" text-anchor="middle">M</text>
<text x="979.72" y="1165.8">--</text>
<text x="992.91" y="1153.0" text-anchor="middle">J</text>
<text x="989.91" y="1165.8">--</text>
<text x="1003.10" y="1153.0" text-anchor="middle">J</text>
<text x="1000.11" y="1165.8">--</text>
<text x="1013.29" y="1153.0" text-anchor="middle">A</text>
<text x="1010.30" y="1165.8">--</text>
<text x="1023.48" y="1153.0" text-anchor="middle">S</text>
<text x="1020.49" y="1165.8">--</text>
<text x="1033.67" y="1153.0" text-anchor="middle">O</text>
<text x="1030.68" y="1165.8">--</text>
<text x="1043.86" y="1153.0" text-anchor="middle">N</text>
<text x="1040.87" y="1165.8">--</text>
<text x="1054.05" y="1153.0" text-anchor="middle">D</text>
<text x="1051.06" y="1165.8">--</text>
<text x="1064.24" y="1153.0" text-anchor="middle">J</text>
<text x="1060.95" y="1165.8">2018</text>
<text x="1074.43" y="1153.0" text-anchor="middle">F</text>
<text x="1084.62" y="1153.0" text-anchor="middle">M</text>
<text x="1094.81" y="1153.0" text-anchor="middle">A</text>
<text x="1091.82" y="1165.8">--</text>
<text x="1105.01" y="1153.0" text-anchor="middle">M</text>
<text x="1102.01" y="1165.8">--</text>
<text x="1115.20" y="1153.0" text-anchor="middle">J</text>
<text x="1112.20" y="1165.8">--</text>
<text x="1125.39" y="1153.0" text-anchor="middle">J</text>
<text x="1122.39" y="1165.8">--</text>
<text x="1135.58" y="1153.0" text-anchor="middle">A</text>
<text x="1132.58" y="1165.8">--</text>
<text x="1145.77" y="1153.0" text-anchor="middle">S</text>
<text x="1142.77" y="1165.8">--</text>
<text x="1155.96" y="1153.0" text-anchor="middle">O</text>
<text x="1152.96" y="1165.8">--</text>
<text x="1166.15" y="1153.0" text-anchor="middle">N</text>
<text x="1163.15" y="1165.8">--</text>
<text x="1176.34" y="1153.0" text-anchor="middle">D</text>
<text x="1173.34" y="1165.8">--</text>
<text x="1186.53" y="1153.0" text-anchor="middle">J</text>
<text x="1183.23" y="1165.8">2019</text>
<text x="1196.72" y="1153.0" text-anchor="middle">F</text>
<text x="1206.91" y="1153.0" text-anchor="middle">M</text>
<text x="1217.10" y="1153.0" text-anchor="middle">A</text>
<text x="1214.11" y="1165.8">--</text>
<text x="1227.29" y="1153.0" text-anchor="middle">M</text>
<text x="1224.30" y="1165.8">--</text>
<text x="1237.48" y="1153.0" text-anchor="middle">J</text>
<text x="1234.49" y="1165.8">--</text>
<text x="1247.67" y="1153.0" text-anchor="middle">J</text>
<text x="1244.68" y="1165.8">--</text>
<text x="1257.86" y="1153.0" text-anchor="middle">A</text>
<text x="1254.87" y="1165.8">--</text>
<text x="1268.05" y="1153.0" text-anchor="middle">S</text>
<text x="1265.06" y="1165.8">--</text>
<text x="1278.24" y="1153.0" text-anchor="middle">O</text>
<text x="1275.25" y="1165.8">--</text>
<text x="1288.43" y="1153.0" text-anchor="middle">N</text>
<text x="1285.44" y="1165.8">--</text>
<text x="1298.62" y="1153.0" text-anchor="middle">D</text>
<text x="1295.63" y="1165.8">--</text>
<text x="1308.82" y="1153.0" text-anchor="middle">J</text>
<text x="1305.52" y="1165.8">2020</text>
<text x="1319.01" y="1153.0" text-anchor="middle">F</text>
<text x="1329.20" y="1153.0" text-anchor="middle">M</text>
<text x="1339.39" y="1153.0" text-anchor="middle">A</text>
<text x="1336.39" y="1165.8">--</text>
<text x="1349.58" y="1153.0" text-anchor="middle">M</text>
<text x="1346.58" y="1165.8">--</text>
<text x="1359.77" y="1153.0" text-anchor="middle">J</text>
<text x="1356.77" y="1165.8">--</text>
<text x="1369.96" y="1153.0" text-anchor="middle">J</text>
<text x="1366.96" y="1165.8">--</text>
<text x="1380.15" y="1153.0" text-anchor="middle">A</text>
<text x="1377.15" y="1165.8">--</text>
<text x="1390.34" y="1153.0" text-anchor="middle">S</text>
<text x="1387.34" y="1165.8">--</text>
<text x="1400.53" y="1153.0" text-anchor="middle">O</text>
<text x="1397.53" y="1165.8">--</text>
<text x="1410.72" y="1153.0" text-anchor="middle">N</text>
<text x="1407.73" y="1165.8">--</text>
<text x="1420.91" y="1153.0" text-anchor="middle">D</text>
<text x="1417.92" y="1165.8">--</text>
<text x="1431.10" y="1153.0" text-anchor="middle">J</text>
<text x="1427.81" y="1165.8">2021</text>
<text x="1441.29" y="1153.0" text-anchor="middle">F</text>
<text x="1451.48" y="1153.0" text-anchor="middle">M</text>
<text x="1461.67" y="1153.0" text-anchor="middle">A</text>
<text x="1458.68" y="1165.8">--</text>
<text x="1471.86" y="1153.0" text-anchor="middle">M</text>
<text x="1468.87" y="1165.8">--</text>
<text x="1482.05" y="1153.0" text-anchor="middle">J</text>
<text x="1479.06" y="1165.8">--</text>
<text x="1492.24" y="1153.0" text-anchor="middle">J</text>
<text x="1489.25" y="1165.8">--</text>
<text x="1502.43" y="1153.0" text-anchor="middle">A</text>
<text x="1499.44" y="1165.8">--</text>
<text x="1512.63" y="1153.0" text-anchor="middle">S</text>
<text x="1509.63" y="1165.8">--</text>
<text x="1522.82" y="1153.0" text-anchor="middle">O</text>
<text x="1519.82" y="1165.8">--</text>
<text x="1533.01" y="1153.0" text-anchor="middle">N</text>
<text x="1530.01" y="1165.8">--</text>
<text x="1543.20" y="1153.0" text-anchor="middle">D</text>
<text x="1540.20" y="1165.8">--</text>
<text x="1553.39" y="1153.0" text-anchor="middle">J</text>
<text x="1550.09" y="1165.8">2022</text>
<text x="1563.58" y="1153.0" text-anchor="middle">F</text>
<text x="1573.77" y="1153.0" text-anchor="middle">M</text>
<text x="1583.96" y="1153.0" text-anchor="middle">A</text>
<text x="1580.96" y="1165.8">--</text>
<text x="1594.15" y="1153.0" text-anchor="middle">M</text>
<text x="1591.15" y="1165.8">--</text>
<text x="1604.34" y="1153.0" text-anchor="middle">J</text>
<text x="1601.34" y="1165.8">--</text>
<text x="1614.53" y="1153.0" text-anchor="middle">J</text>
<text x="1611.54" y="1165.8">--</text>
<text x="1624.72" y="1153.0" text-anchor="middle">A</text>
<text x="1621.73" y="1165.8">--</text>
<text x="1634.91" y="1153.0" text-anchor="middle">S</text>
<text x="1631.92" y="1165.8">--</text>
<text x="1645.10" y="1153.0" text-anchor="middle">O</text>
<text x="1642.11" y="1165.8">--</text>
<text x="1655.29" y="1153.0" text-anchor="middle">N</text>
<text x="1652.30" y="1165.8">--</text>
<text x="1665.48" y="1153.0" text-anchor="middle">D</text>
<text x="1662.49" y="1165.8">--</text>
<text x="1675.67" y="1153.0" text-anchor="middle">J</text>
<text x="1672.38" y="1165.8">2023</text>
<text x="1685.86" y="1153.0" text-anchor="middle">F</text>
<text x="1696.05" y="1153.0" text-anchor="middle">M</text>
<text x="1706.24" y="1153.0" text-anchor="middle">A</text>
<text x="1703.25" y="1165.8">--</text>
<text x="1716.44" y="1153.0" text-anchor="middle">M</text>
<text x="1713.44" y="1165.8">--</text>
<text x="1726.63" y="1153.0" text-anchor="middle">J</text>
<text x="1723.63" y="1165.8">--</text>
<text x="1736.82" y="1153.0" text-anchor="middle">J</text>
<text x="1733.82" y="1165.8">--</text>
<text x="1747.01" y="1153.0" text-anchor="middle">A</text>
<text x="1744.01" y="1165.8">--</text>
<text x="1757.20" y="1153.0" text-anchor="middle">S</text>
<text x="1754.20" y="1165.8">--</text>
<text x="1767.39" y="1153.0" text-anchor="middle">O</text>
<text x="1764.39" y="1165.8">--</text>
<text x="1777.58" y="1153.0" text-anchor="middle">N</text>
<text x="1774.58" y="1165.8">--</text>
<text x="1787.77" y="1153.0" text-anchor="middle">D</text>
<text x="1784.77" y="1165.8">--</text>
<text x="1797.96" y="1153.0" text-anchor="middle">J</text>
<text x="1794.66" y="1165.8">2024</text>
<text x="1808.15" y="1153.0" text-anchor="middle">F</text>
<text x="1818.34" y="1153.0" text-anchor="middle">M</text>
<text x="1828.53" y="1153.0" text-anchor="middle">A</text>
<text x="1825.54" y="1165.8">--</text>
<text x="1838.72" y="1153.0" text-anchor="middle">M</text>
<text x="1835.73" y="1165.8">--</text>
<text x="1848.91" y="1153.0" text-anchor="middle">J</text>
<text x="1845.92" y="1165.8">--</text>
<text x="1859.10" y="1153.0" text-anchor="middle">J</text>
<text x="1856.11" y="1165.8">--</text>
<text x="1869.29" y="1153.0" text-anchor="middle">A</text>
<text x="1866.30" y="1165.8">--</text>
<text x="1879.48" y="1153.0" text-anchor="middle">S</text>
<text x="1876.49" y="1165.8">--</text>
<text x="1889.67" y="1153.0" text-anchor="middle">O</text>
<text x="1886.68" y="1165.8">--</text>
<text x="1899.86" y="1153.0" text-anchor="middle">N</text>
<text x="1896.87" y="1165.8">--</text>
<text x="1910.05" y="1153.0" text-anchor="middle">D</text>
<text x="1907.06" y="1165.8">--</text>
</g>
<rect x="91.5" y="98.7" width="283" height="31.8" fill="#fff"/>
<g font-size="16" stroke="#000" stroke-width="0.29"><text x="313.4" y="112.7" text-anchor="end">Expected Deaths Per Month</text><text x="313.4" y="128.6" text-anchor="end">Actual Deaths Per Month</text></g>
<path d="M323.4,106.4H365.6" stroke="#000" stroke-width="7.3"/>
<rect x="323.9" y="119" width="41.4" height="7.2" fill="#ffb2b2" stroke="#000" stroke-width="1"/>
<text x="837.8" y="127" font-size="37.33" stroke="#000" stroke-width="0.67" text-anchor="middle">DEMOGRAPHIC: Older Adults</text>
<text x="822.2" y="207.5" font-size="32" stroke="#000" stroke-width="0.58" text-anchor="middle">PRE-PANDEMIC BASELINE</text>
<text x="822" y="239.8" font-size="32" stroke="#000" stroke-width="0.58" text-anchor="middle">(Excess deaths relative to this)</text>
<rect x="1886.7" y="829.7" width="27.5" height="253.6" fill="#fff"/>
<text transform="translate(1909.5,1082.0) rotate(-90)" font-size="27" stroke="#000" stroke-width="0.5">INCOMPLETE DATA</text>
<rect x="541.8" y="1080.5" width="641.9" height="51.6" fill="#fff"/>
<text x="489" y="1119.8" font-size="37.23" stroke="#000" stroke-width="0.67">Deaths (Mental and Behavioral Diseases)</text>
<text transform="translate(21.2,611.7) rotate(-90)" font-size="16" stroke="#000" stroke-width="0.29" text-anchor="middle">Deaths per 100K population</text>
<text transform="translate(2010.5,612.2) rotate(-90)" font-size="16" stroke="#000" stroke-width="0.29" text-anchor="middle">Total Monthly Deaths</text>
<text transform="translate(2027,612.2) rotate(-90)" font-size="16" stroke="#000" stroke-width="0.29" text-anchor="middle">(2023 population normalized)</text>
<g font-size="20" stroke="#000" stroke-width="0.36" text-anchor="middle">
<text x="1000" y="31.5">Deaths (Mental and Behavioral Diseases)(deaths_mental_ucd) Monthly Mortality for demographic Older Adults in HHS9</text>
<text x="1000.5" y="52.3">(&quot;75-84 years&quot;,&quot;85+ years&quot;) POPULATION 3,543,566</text>
</g><g font-size="20" stroke="#000" stroke-width="0.36">
<text x="380.5" y="72.3">Sources: State Death Certificates via CDC WONDER.</text>
<text x="1618.5" y="72.3" text-anchor="end">Chart created by @gregorytravis.com (Bsky) on Sun Feb 02 05:23:01 2025</text>
</g>
</svg>
</body></html>
